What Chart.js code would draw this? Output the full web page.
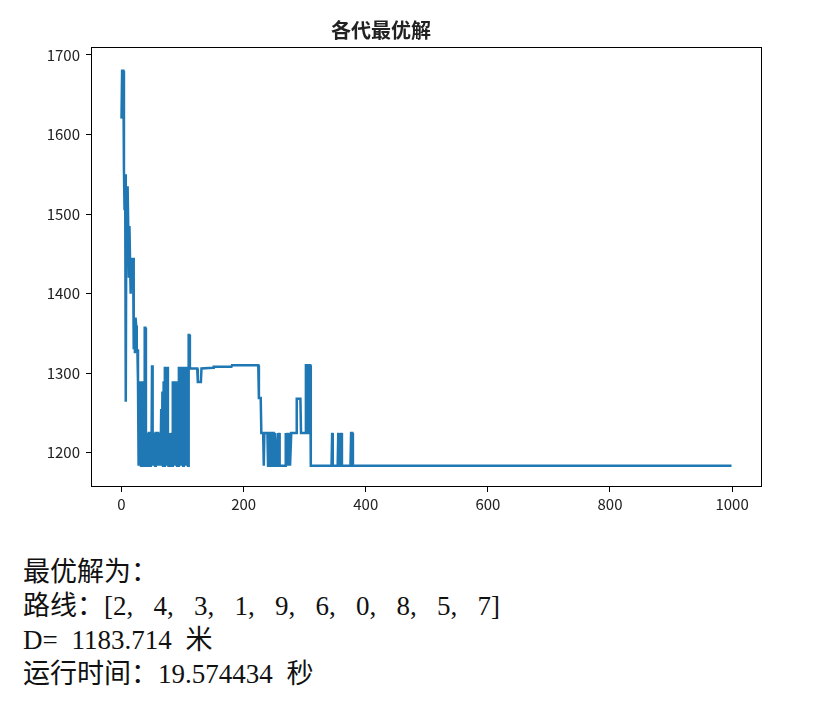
<!DOCTYPE html>
<html lang="zh">
<head>
    <meta charset="UTF-8">
    <title>各代最优解</title>
    <script src="https://cdn.jsdelivr.net/npm/chart.js"></script>
    <style>
        body {
            margin: 0;
            background: #fff;
            width: 835px;
            height: 706px;
            position: relative;
            overflow: hidden;
        }
        .chart-box {
            position: absolute;
            left: 0;
            top: 0;
            width: 835px;
            height: 530px;
        }
        .result {
            position: absolute;
            left: 23px;
            top: 555px;
            font-family: "Liberation Serif", "Noto Sans CJK SC", serif;
            font-size: 27px;
            line-height: 34px;
            color: #111;
        }
        .result div {
            white-space: pre;
            word-spacing: 7px;
        }
        .result .route {
            word-spacing: 13.5px;
        }
    </style>
</head>
<body>
    <div class="chart-box"><canvas id="chart" width="835" height="530"></canvas></div>

    <div class="result">
        <div>最优解为：</div>
        <div class="route">路线：[2, 4, 3, 1, 9, 6, 0, 8, 5, 7]</div>
        <div>D= 1183.714 米</div>
        <div>运行时间：19.574434 秒</div>
    </div>

    <script>
        // best distance of each generation (only points where it changes)
        const generations = [
            0, 1, 2, 3, 4, 5, 6, 7, 8, 9, 10, 11, 12, 13, 14, 15, 16, 17, 18, 19,
            20, 21, 22, 23, 24, 25, 26, 27, 28, 29, 30, 31, 32, 33, 34, 35, 36, 37, 38, 39,
            40, 41, 42, 43, 44, 45, 46, 47, 48, 49, 50, 51, 52, 53, 54, 55, 56, 57, 58, 59,
            60, 61, 62, 63, 64, 65, 66, 67, 68, 69, 70, 71, 72, 73, 74, 75, 76, 77, 78, 79,
            80, 81, 82, 83, 84, 85, 86, 87, 88, 89, 90, 91, 92, 93, 94, 95, 96, 97, 98, 99,
            100, 101, 102, 103, 104, 105, 106, 107, 108, 109, 110, 111, 112,
            113, 124, 125, 130, 131, 150, 151, 180, 181, 224,
            225, 228, 229, 232, 233, 234, 239, 240, 241, 244, 245, 246, 249, 250, 251, 255,
            256, 257, 258, 259, 268, 269, 270, 272, 273, 275, 276, 278, 286, 287, 293, 294,
            301, 302, 305, 306, 307, 309, 310, 344, 345, 346, 354, 355, 356, 359, 360, 361,
            375, 376, 378, 379, 999
        ];
        const bestDistance = [
            1620, 1680, 1680, 1680, 1555, 1505, 1550, 1264, 1535, 1505, 1535, 1485, 1420, 1485, 1440, 1400, 1445, 1440, 1405, 1445,
            1330, 1370, 1325, 1370, 1360, 1325, 1330, 1290, 1183.7, 1290, 1183.7, 1290, 1183.7, 1225, 1183.7, 1290, 1183.7, 1183.7, 1357, 1357,
            1183.7, 1225, 1183.7, 1225, 1183.7, 1225, 1225, 1183.7, 1225, 1183.7, 1310, 1183.7, 1225, 1183.7, 1225, 1183.7, 1225, 1225, 1183.7, 1225,
            1225, 1183.7, 1225, 1225, 1183.7, 1255, 1183.7, 1277, 1183.7, 1290, 1183.7, 1308, 1290, 1308, 1183.7, 1308, 1225, 1183.7, 1183.7, 1225,
            1183.7, 1183.7, 1225, 1183.7, 1290, 1183.7, 1290, 1183.7, 1290, 1225, 1290, 1183.7, 1290, 1183.7, 1308, 1225, 1308, 1183.7, 1308, 1183.7,
            1308, 1183.7, 1308, 1183.7, 1308, 1225, 1308, 1183.7, 1308, 1183.7, 1348, 1348, 1308,
            1306, 1306, 1289, 1289, 1306, 1307, 1308, 1308, 1310, 1310,
            1269, 1269, 1225, 1225, 1183.7, 1225, 1225, 1183.7, 1225, 1225, 1183.7, 1225, 1225, 1183.7, 1225, 1183.7,
            1225, 1183.7, 1225, 1183.7, 1183.7, 1225, 1183.7, 1225, 1183.7, 1225, 1183.7, 1225, 1225, 1268, 1268, 1225,
            1225, 1310, 1310, 1225, 1310, 1310, 1183.7, 1183.7, 1225, 1183.7, 1183.7, 1225, 1183.7, 1183.7, 1225, 1183.7,
            1183.7, 1225, 1225, 1183.7, 1183.7
        ];
        const xTicks = [0, 200, 400, 600, 800, 1000];
        const yTicks = [1200, 1300, 1400, 1500, 1600, 1700];

        const points = generations.map((g, i) => ({ x: g, y: bestDistance[i] }));

        // matplotlib style box around the plot area
        const frame = {
            id: 'frame',
            afterDraw(chart) {
                const a = chart.chartArea;
                const ctx = chart.ctx;
                ctx.save();
                ctx.strokeStyle = '#000';
                ctx.lineWidth = 1;
                ctx.strokeRect(a.left + 0.5, a.top + 0.5, a.right - a.left - 1, a.bottom - a.top - 1);
                ctx.restore();
            }
        };

        const tickFont = { family: '"Noto Sans CJK SC", sans-serif', size: 15 };

        new Chart(document.getElementById('chart'), {
            type: 'line',
            data: {
                datasets: [{
                    data: points,
                    borderColor: '#1f77b4',
                    borderWidth: 2.5,
                    pointRadius: 0,
                    tension: 0,
                    fill: false
                }]
            },
            options: {
                responsive: false,
                animation: false,
                layout: { padding: { left: 0, right: 73, top: 0, bottom: 0 } },
                plugins: {
                    legend: { display: false },
                    tooltip: { enabled: false },
                    title: {
                        display: true,
                        text: '各代最优解',
                        color: '#222',
                        font: { family: '"Noto Sans CJK SC", sans-serif', size: 20, weight: 'bold' },
                        padding: { top: 18, bottom: 5 }
                    }
                },
                scales: {
                    x: {
                        type: 'linear',
                        min: -49.95,
                        max: 1048.95,
                        afterBuildTicks: (axis) => { axis.ticks = xTicks.map(v => ({ value: v })); },
                        afterFit: (axis) => { axis.height = 43; },
                        grid: { display: true, drawOnChartArea: false, drawTicks: true, tickLength: 5, color: '#000' },
                        border: { display: false },
                        ticks: { color: '#222', font: tickFont, padding: 3, maxRotation: 0, callback: (v) => String(v) }
                    },
                    y: {
                        min: 1157,
                        max: 1710,
                        afterBuildTicks: (axis) => { axis.ticks = yTicks.map(v => ({ value: v })); },
                        afterFit: (axis) => { axis.width = 91; },
                        grid: { display: true, drawOnChartArea: false, drawTicks: true, tickLength: 5, color: '#000' },
                        border: { display: false },
                        ticks: { color: '#222', font: tickFont, padding: 6, callback: (v) => String(v) }
                    }
                }
            },
            plugins: [frame]
        });
    </script>
</body>
</html>
